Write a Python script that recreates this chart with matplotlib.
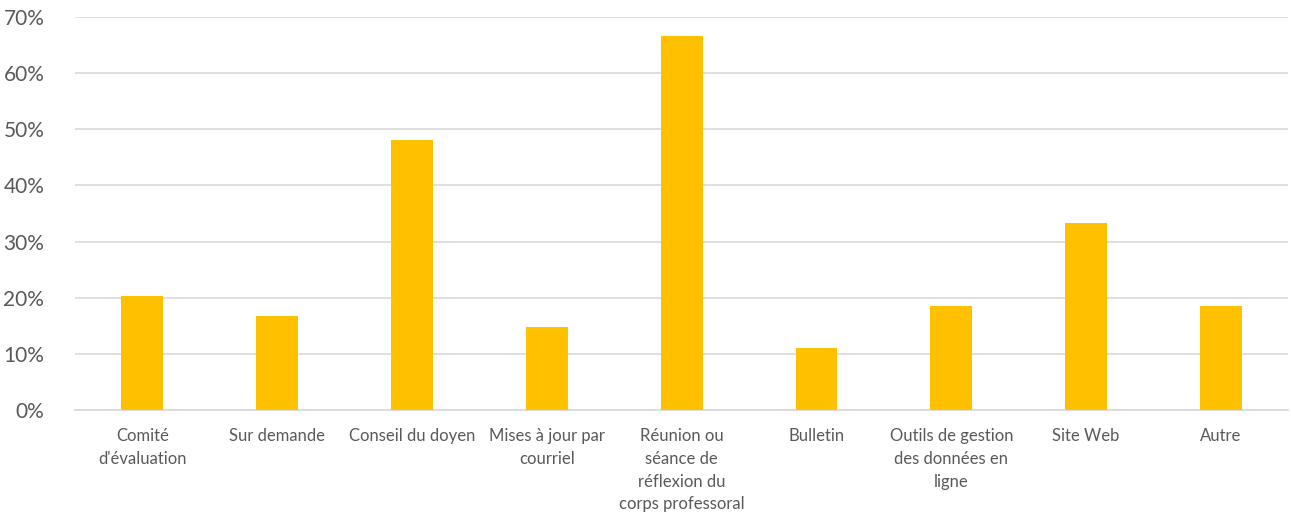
import matplotlib.pyplot as plt
import numpy as np

categories = ["Comité\nd'évaluation", "Sur demande", "Conseil du doyen",
              "Mises à jour par\ncourriel", "Réunion ou\nséance de\nréflexion du\ncorps professoral",
              "Bulletin", "Outils de gestion\ndes données en\nligne", "Site Web", "Autre"]
values = [20.37, 16.67, 48.15, 14.81, 66.67, 11.11, 18.52, 33.33, 18.52]
yticks = [0, 10, 20, 30, 40, 50, 60, 70]

plt.rcParams['font.family'] = ['Lato', 'DejaVu Sans']

fig = plt.figure(figsize=(12.91, 5.15), dpi=100)
ax = fig.add_axes([0.058, 0.204, 0.94, 0.763])

x = np.arange(len(categories))
ax.bar(x, values, width=0.31, color='#FFC000', zorder=3)

ax.set_xlim(-0.5, len(categories) - 0.5)
ax.set_ylim(0, 70)
ax.set_yticks(yticks)
ax.set_yticklabels([f'{t}%' for t in yticks])
ax.yaxis.grid(True, color='#d9d9d9', linewidth=1.2, zorder=0)
ax.set_axisbelow(True)

ax.set_xticks(x)
ax.set_xticklabels(categories, linespacing=1.52)
ax.tick_params(axis='x', length=0, pad=13, labelsize=12, labelcolor='#595959')
ax.tick_params(axis='y', length=0, pad=22, labelsize=15, labelcolor='#595959')

for s in ['top', 'right', 'left']:
    ax.spines[s].set_visible(False)
ax.spines['bottom'].set_color('#d9d9d9')
ax.spines['bottom'].set_linewidth(1.2)

fig.savefig('out.png', dpi=100)
